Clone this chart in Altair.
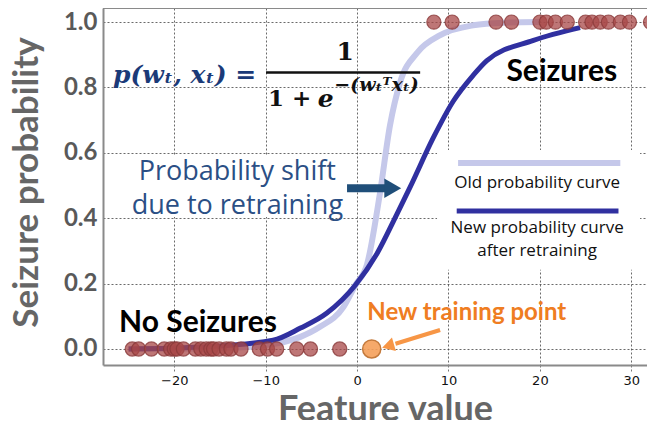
import altair as alt
import pandas as pd

# ---------------- data ----------------
old_x = [-25, -15, -10, -6.2, -4.1, -1.5, -0.2, 1.1, 2.5, 3.6, 4.7, 6.6, 9.1, 12.7, 16, 20]
old_y = [0.0, 0.003, 0.012, 0.037, 0.067, 0.128, 0.195, 0.26, 0.476, 0.684, 0.815, 0.907, 0.96, 0.99, 0.998, 1.0]

new_x = [-25, -17, -9.2, -6.2, -3.3, -0.2, 2.2, 4.4, 5.8, 8.3, 10.5, 12.7, 14.2, 19.3, 24.4]
new_y = [0.0, 0.006, 0.027, 0.064, 0.11, 0.195, 0.293, 0.415, 0.495, 0.644, 0.757, 0.837, 0.882, 0.944, 0.983]

no_seizure_x = [-24.6, -23.9, -22.5, -21.1, -20.4, -20.0, -19.7, -19.0, -17.7, -17.1, -16.5,
                -16.0, -15.7, -15.1, -14.3, -13.8, -12.7, -10.7, -9.8, -8.8, -6.6, -5.1, -1.9]
seizure_x = [8.4, 10.4, 15.2, 16.9, 20.0, 20.7, 21.7, 23.0, 25.0, 25.7, 26.6, 27.5, 28.8, 29.8, 32.1]
new_point_x = [1.6]
new_point_y = [0.0]

x_ticks = [-20, -10, 0, 10, 20, 30]
y_ticks = [0.0, 0.2, 0.4, 0.6, 0.8, 1.0]

X_MIN, X_MAX = -27.8, 31.72
Y_MIN, Y_MAX = -0.049, 1.043
FRAME = "#8a8a8a"

# ---------------- scales / axes ----------------
xs = alt.Scale(domain=[X_MIN, X_MAX], nice=False, zero=False)
ys = alt.Scale(domain=[Y_MIN, Y_MAX], nice=False, zero=False)

xaxis = alt.Axis(values=x_ticks, format="d", grid=True, gridDash=[2, 2], gridColor="#444",
                 gridWidth=0.8, domain=True, domainColor=FRAME, domainWidth=2,
                 ticks=True, tickSize=6, tickColor="#777",
                 tickDash=[2, 2], labelFont="DejaVu Sans", labelFontSize=13, labelColor="#111",
                 labelPadding=3, titleFont="Lato", titleFontSize=36, titleFontWeight="bold",
                 titleColor="#666", titleY=55, titleX=282, titleBaseline="alphabetic")
yaxis = alt.Axis(values=y_ticks, format=".1f", grid=True, gridDash=[2, 2], gridColor="#444",
                 gridWidth=0.8, domain=True, domainColor=FRAME, domainWidth=2,
                 ticks=False, labelFont="Lato", labelFontWeight="bold",
                 labelFontSize=24, labelColor="#595959", labelPadding=6, titleFont="Lato",
                 titleFontSize=35, titleFontWeight="bold", titleColor="#666", titleX=-66,
                 titleY=174, titleAngle=270, titleBaseline="alphabetic")

X = alt.X("x:Q", scale=xs, axis=xaxis, title="Feature value")
Y = alt.Y("y:Q", scale=ys, axis=yaxis, title="Seizure probability")


def txt(df, **kw):
    return alt.Chart(df).mark_text(**kw).encode(x=X, y=Y, text="t:N")


layers = []

# top edge of the frame
top = pd.DataFrame({"x": [X_MIN], "x2": [X_MAX], "y": [Y_MAX]})
layers.append(alt.Chart(top).mark_rule(color=FRAME, strokeWidth=2).encode(x=X, x2="x2:Q", y=Y))

# white boxes behind annotation text
boxes = pd.DataFrame({"x": [-24.8, 8.75], "x2": [-1.3, 30.96], "y": [0.404, 0.242], "y2": [0.59, 0.609]})
layers.append(alt.Chart(boxes).mark_rect(fill="white").encode(x=X, x2="x2:Q", y=Y, y2="y2:Q"))

# curves
old_df = pd.DataFrame({"x": old_x, "y": old_y})
new_df = pd.DataFrame({"x": new_x, "y": new_y})
layers.append(alt.Chart(old_df).mark_line(interpolate="monotone", strokeWidth=6, color="#c5c8ea",
                                          strokeCap="butt").encode(x=X, y=Y))
layers.append(alt.Chart(new_df).mark_line(interpolate="monotone", strokeWidth=5, color="#3030a0",
                                          strokeCap="butt").encode(x=X, y=Y))

# observations
obs = pd.DataFrame({"x": no_seizure_x + seizure_x,
                    "y": [0.0] * len(no_seizure_x) + [1.0] * len(seizure_x)})
layers.append(alt.Chart(obs).mark_circle(size=200, fill="#a84848", fillOpacity=0.75,
                                         stroke="#8a3a3a", strokeWidth=1.2, strokeOpacity=0.8)
              .encode(x=X, y=Y))
newp = pd.DataFrame({"x": new_point_x, "y": new_point_y})
layers.append(alt.Chart(newp).mark_circle(size=330, fill="#f5a05a", fillOpacity=0.9,
                                          stroke="#c47a3c", strokeWidth=1.5).encode(x=X, y=Y))

# legend-like annotation lines
leg = pd.DataFrame({"x": [11.05, 10.9], "x2": [28.8, 28.6], "y": [0.569, 0.422], "c": ["old", "new"]})
layers.append(alt.Chart(leg[leg.c == "old"]).mark_rule(strokeWidth=6, color="#c5c8ea")
              .encode(x=X, x2="x2:Q", y=Y))
layers.append(alt.Chart(leg[leg.c == "new"]).mark_rule(strokeWidth=5, color="#3030a0")
              .encode(x=X, x2="x2:Q", y=Y))
leg_txt = pd.DataFrame({"x": [19.7, 19.7, 19.7], "y": [0.508, 0.37, 0.30],
                        "t": ["Old probability curve", "New probability curve", "after retraining"]})
layers.append(txt(leg_txt, font="Open Sans", fontSize=17, color="#111", baseline="middle"))

# blue arrow
barrow = pd.DataFrame({"x": [-1.1], "x2": [3.3], "y": [0.492]})
layers.append(alt.Chart(barrow).mark_rule(strokeWidth=8, color="#1f4e79").encode(x=X, x2="x2:Q", y=Y))
bhead = pd.DataFrame({"x": [3.9], "y": [0.492]})
layers.append(alt.Chart(bhead).mark_point(shape="triangle-right", filled=True, size=380, color="#1f4e79",
                                          opacity=1).encode(x=X, y=Y))

# orange arrow
oarrow = pd.DataFrame({"x": [9.08], "x2": [4.2], "y": [0.058], "y2": [0.016]})
layers.append(alt.Chart(oarrow).mark_rule(strokeWidth=4, color="#f79646").encode(x=X, x2="x2:Q", y=Y, y2="y2:Q"))
ohead = pd.DataFrame({"x": [3.6], "y": [0.011]})
layers.append(alt.Chart(ohead).mark_point(shape="triangle", filled=True, size=200, color="#f79646",
                                          angle=254, opacity=1).encode(x=X, y=Y))

# text annotations
layers.append(txt(pd.DataFrame({"x": [-13.1], "y": [0.54], "t": ["Probability shift"]}),
                  font="Open Sans", fontSize=27, color="#2b4f85", baseline="middle"))
layers.append(txt(pd.DataFrame({"x": [-13.1], "y": [0.437], "t": ["due to retraining"]}),
                  font="Open Sans", fontSize=27, color="#2b4f85", baseline="middle"))
layers.append(txt(pd.DataFrame({"x": [22.4], "y": [0.846], "t": ["Seizures"]}),
                  font="Lato", fontSize=30, fontWeight="bold", color="#000", baseline="middle"))
layers.append(txt(pd.DataFrame({"x": [-17.4], "y": [0.08], "t": ["No Seizures"]}),
                  font="Lato", fontSize=30, fontWeight="bold", color="#000", baseline="middle"))
layers.append(txt(pd.DataFrame({"x": [12.0], "y": [0.11], "t": ["New training point"]}),
                  font="Lato", fontSize=24, fontWeight="bold", color="#ef7d22", baseline="middle"))

# formula
layers.append(txt(pd.DataFrame({"x": [-26.7], "y": [0.837], "t": ["p(wₜ, xₜ) ="]}),
                  font="DejaVu Serif", fontSize=25, fontWeight="bold", fontStyle="italic",
                  color="#1b3a78", baseline="middle", align="left"))
frac = pd.DataFrame({"x": [-9.96], "x2": [6.9], "y": [0.846]})
layers.append(alt.Chart(frac).mark_rule(strokeWidth=2.5, color="#111").encode(x=X, x2="x2:Q", y=Y))
layers.append(txt(pd.DataFrame({"x": [-1.3], "y": [0.907], "t": ["1"]}),
                  font="DejaVu Serif", fontSize=25, fontWeight="bold", color="#111", baseline="middle"))
layers.append(txt(pd.DataFrame({"x": [-9.74], "y": [0.766], "t": ["1 +"]}),
                  font="DejaVu Serif", fontSize=23, fontWeight="bold", color="#111", baseline="middle",
                  align="left"))
layers.append(txt(pd.DataFrame({"x": [-4.3], "y": [0.766], "t": ["e"]}),
                  font="DejaVu Serif", fontSize=25, fontWeight="bold", fontStyle="italic", color="#111",
                  baseline="middle", align="left"))
layers.append(txt(pd.DataFrame({"x": [-2.5], "y": [0.806], "t": ["−(wₜᵀxₜ)"]}),
                  font="DejaVu Serif", fontSize=19, fontWeight="bold", fontStyle="italic", color="#111",
                  baseline="middle", align="left"))

chart = alt.layer(*layers).properties(
    width=544, height=357,
    autosize=alt.AutoSizeParams(type="none"),
    padding={"left": 95, "top": 0, "right": 0, "bottom": 55},
).configure_view(stroke=None)

chart.save("out.html", embed_options={"renderer": "svg", "actions": False})
